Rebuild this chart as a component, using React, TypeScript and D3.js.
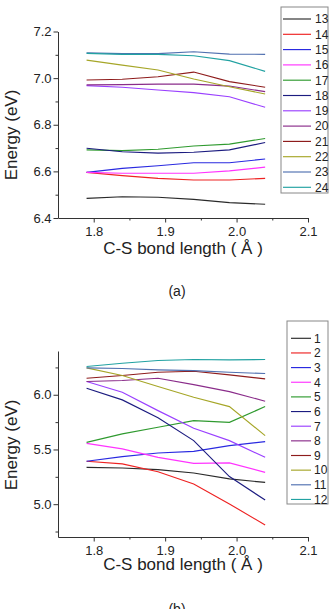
import { useRef, useEffect } from "react";
import * as d3 from "d3";

// C-S bond length (Å) sampled for every state
const BOND_LENGTH = [1.79, 1.84, 1.89, 1.94, 1.99, 2.04];

// panel (a): states 13-24
const LABELS_A = ["13", "14", "15", "16", "17", "18", "19", "20", "21", "22", "23", "24"];
const ENERGY_A = [
  [6.484, 6.491, 6.489, 6.48, 6.466, 6.459],
  [6.596, 6.582, 6.57, 6.563, 6.563, 6.57],
  [6.596, 6.613, 6.624, 6.637, 6.637, 6.653],
  [6.596, 6.592, 6.592, 6.592, 6.602, 6.618],
  [6.692, 6.689, 6.695, 6.709, 6.717, 6.741],
  [6.699, 6.684, 6.678, 6.682, 6.692, 6.724],
  [6.968, 6.961, 6.949, 6.938, 6.92, 6.875],
  [6.971, 6.972, 6.974, 6.974, 6.966, 6.942],
  [6.992, 6.995, 7.006, 7.026, 6.985, 6.961],
  [7.077, 7.056, 7.035, 6.996, 6.963, 6.932],
  [7.108, 7.105, 7.105, 7.113, 7.103, 7.102],
  [7.106, 7.102, 7.102, 7.096, 7.075, 7.029],
];

// panel (b): states 1-12
const LABELS_B = ["1", "2", "3", "4", "5", "6", "7", "8", "9", "10", "11", "12"];
const ENERGY_B = [
  [5.337, 5.331, 5.316, 5.285, 5.231, 5.199],
  [5.392, 5.368, 5.297, 5.185, 5.002, 4.81],
  [5.392, 5.435, 5.468, 5.483, 5.535, 5.572],
  [5.556, 5.505, 5.428, 5.373, 5.377, 5.291],
  [5.565, 5.642, 5.703, 5.764, 5.748, 5.892],
  [6.06, 5.953, 5.789, 5.581, 5.252, 5.038],
  [6.121, 6.023, 5.855, 5.694, 5.581, 5.428],
  [6.121, 6.13, 6.151, 6.093, 6.029, 5.941],
  [6.151, 6.176, 6.206, 6.215, 6.182, 6.145],
  [6.246, 6.176, 6.075, 5.977, 5.892, 5.627],
  [6.246, 6.24, 6.228, 6.221, 6.206, 6.194],
  [6.258, 6.288, 6.313, 6.322, 6.319, 6.322],
];

const X_TICKS = [1.8, 1.9, 2.0, 2.1];
const X_MINOR = [1.85, 1.95, 2.05];
const Y_TICKS_A = [6.4, 6.6, 6.8, 7.0, 7.2];
const Y_MINOR_A = [6.5, 6.7, 6.9, 7.1];
const Y_TICKS_B = [5.0, 5.5, 6.0];
const Y_MINOR_B = [4.75, 5.25, 5.75, 6.25];

const COLORS = [
  "#2a2a2a", "#ee2222", "#2a2ae0", "#ff33ff", "#2f9a2f", "#1c1c80",
  "#9a40ff", "#8a2c8a", "#8e1c1c", "#a6a628", "#5070b0", "#22a2a2",
];

const FONT = "'Liberation Sans', Arial, sans-serif";
const AXIS_COLOR = "#333";

interface PanelCfg {
  labels: string[];
  energy: number[][];
  yDomain: [number, number];
  yTicks: number[];
  yMinor: number[];
  top: number;
  bottom: number;
  yTitleY: number;
  xTitleY: number;
  caption: string;
  captionY: number;
  legend: { x0: number; y0: number; x1: number; y1: number; first: number; step: number; lineX0: number; lineX1: number; textX: number };
}

const LEFT = 58;
const RIGHT = 308;

function drawPanel(svg: d3.Selection<SVGSVGElement, unknown, null, undefined>, p: PanelCfg) {
  const g = svg.append("g");
  const x = d3.scaleLinear().domain([1.75, 2.1]).range([LEFT, RIGHT]);
  const y = d3.scaleLinear().domain(p.yDomain).range([p.bottom, p.top]);
  const fmt = d3.format(".1f");

  // minor ticks
  g.append("g")
    .attr("transform", `translate(${LEFT},0)`)
    .call(d3.axisLeft(y).tickValues(p.yMinor).tickSize(2.5).tickSizeOuter(0).tickFormat(() => ""))
    .call((a) => a.select(".domain").remove());
  g.append("g")
    .attr("transform", `translate(0,${p.bottom})`)
    .call(d3.axisBottom(x).tickValues(X_MINOR).tickSize(2.5).tickSizeOuter(0).tickFormat(() => ""))
    .call((a) => a.select(".domain").remove());

  // y axis
  const ya = g.append("g")
    .attr("transform", `translate(${LEFT},0)`)
    .call(d3.axisLeft(y).tickValues(p.yTicks).tickSize(4.5).tickSizeOuter(0).tickPadding(2).tickFormat((d) => fmt(d as number)));
  // x axis
  const xa = g.append("g")
    .attr("transform", `translate(0,${p.bottom})`)
    .call(d3.axisBottom(x).tickValues(X_TICKS).tickSize(4.5).tickSizeOuter(0).tickPadding(4).tickFormat((d) => fmt(d as number)));

  [ya, xa].forEach((a) => {
    a.selectAll("path, line").attr("stroke", AXIS_COLOR);
    a.selectAll("text").style("font-family", FONT).style("font-size", "13px").attr("fill", "#222");
  });
  g.selectAll("line").attr("stroke", AXIS_COLOR);

  // lines
  const line = d3.line<number>()
    .x((_, i) => x(BOND_LENGTH[i]))
    .y((d) => y(d));
  g.append("g")
    .selectAll("path")
    .data(p.energy)
    .join("path")
    .attr("d", (d) => line(d))
    .attr("fill", "none")
    .attr("stroke", (_, i) => COLORS[i])
    .attr("stroke-width", 1.15);

  // titles
  g.append("text")
    .attr("transform", `translate(17,${p.yTitleY}) rotate(-90)`)
    .attr("text-anchor", "middle")
    .style("font-family", FONT).style("font-size", "17px").attr("fill", "#222")
    .text("Energy (eV)");
  g.append("text")
    .attr("x", (LEFT + RIGHT) / 2)
    .attr("y", p.xTitleY)
    .attr("text-anchor", "middle")
    .style("font-family", FONT).style("font-size", "17px").attr("fill", "#222")
    .text("C-S bond length ( Å )");
  g.append("text")
    .attr("x", 177)
    .attr("y", p.captionY)
    .attr("text-anchor", "middle")
    .style("font-family", FONT).style("font-size", "14px").attr("fill", "#222")
    .text(p.caption);

  // legend
  const L = p.legend;
  g.append("rect")
    .attr("x", L.x0).attr("y", L.y0)
    .attr("width", L.x1 - L.x0).attr("height", L.y1 - L.y0)
    .attr("fill", "white").attr("stroke", "#888").attr("stroke-width", 1);
  const ly = (i: number) => L.first + i * L.step;
  const items = g.append("g").selectAll("g").data(p.labels).join("g");
  items.append("line")
    .attr("x1", L.lineX0).attr("x2", L.lineX1)
    .attr("y1", (_, i) => ly(i)).attr("y2", (_, i) => ly(i))
    .attr("stroke", (_, i) => COLORS[i]).attr("stroke-width", 1.15);
  items.append("text")
    .attr("x", L.textX).attr("y", (_, i) => ly(i)).attr("dy", "0.36em")
    .style("font-family", FONT).style("font-size", "12px").attr("fill", "#222")
    .text((d) => d);
}

const PANEL_A: PanelCfg = {
  labels: LABELS_A,
  energy: ENERGY_A,
  yDomain: [6.4, 7.2],
  yTicks: Y_TICKS_A,
  yMinor: Y_MINOR_A,
  top: 31.5,
  bottom: 218,
  yTitleY: 135,
  xTitleY: 254,
  caption: "(a)",
  captionY: 296,
  legend: { x0: 281, y0: 7, x1: 328, y1: 193, first: 19, step: 15.3, lineX0: 283, lineX1: 311, textX: 315 },
};

const PANEL_B: PanelCfg = {
  labels: LABELS_B,
  energy: ENERGY_B,
  yDomain: [4.7, 6.4],
  yTicks: Y_TICKS_B,
  yMinor: Y_MINOR_B,
  top: 351,
  bottom: 537,
  yTitleY: 445,
  xTitleY: 570,
  caption: "(b)",
  captionY: 614,
  legend: { x0: 287, y0: 321, x1: 328, y1: 504, first: 338.3, step: 14.65, lineX0: 291, lineX1: 311, textX: 314 },
};

export default function App() {
  const svgRef = useRef<SVGSVGElement>(null);

  useEffect(() => {
    if (!svgRef.current) return;
    const svg = d3.select(svgRef.current);
    svg.selectAll("*").remove();
    drawPanel(svg, PANEL_A);
    drawPanel(svg, PANEL_B);
  }, []);

  return (
    <svg
      ref={svgRef}
      width={333}
      height={609}
      style={{ position: "absolute", left: 0, top: 0, background: "white" }}
    />
  );
}
